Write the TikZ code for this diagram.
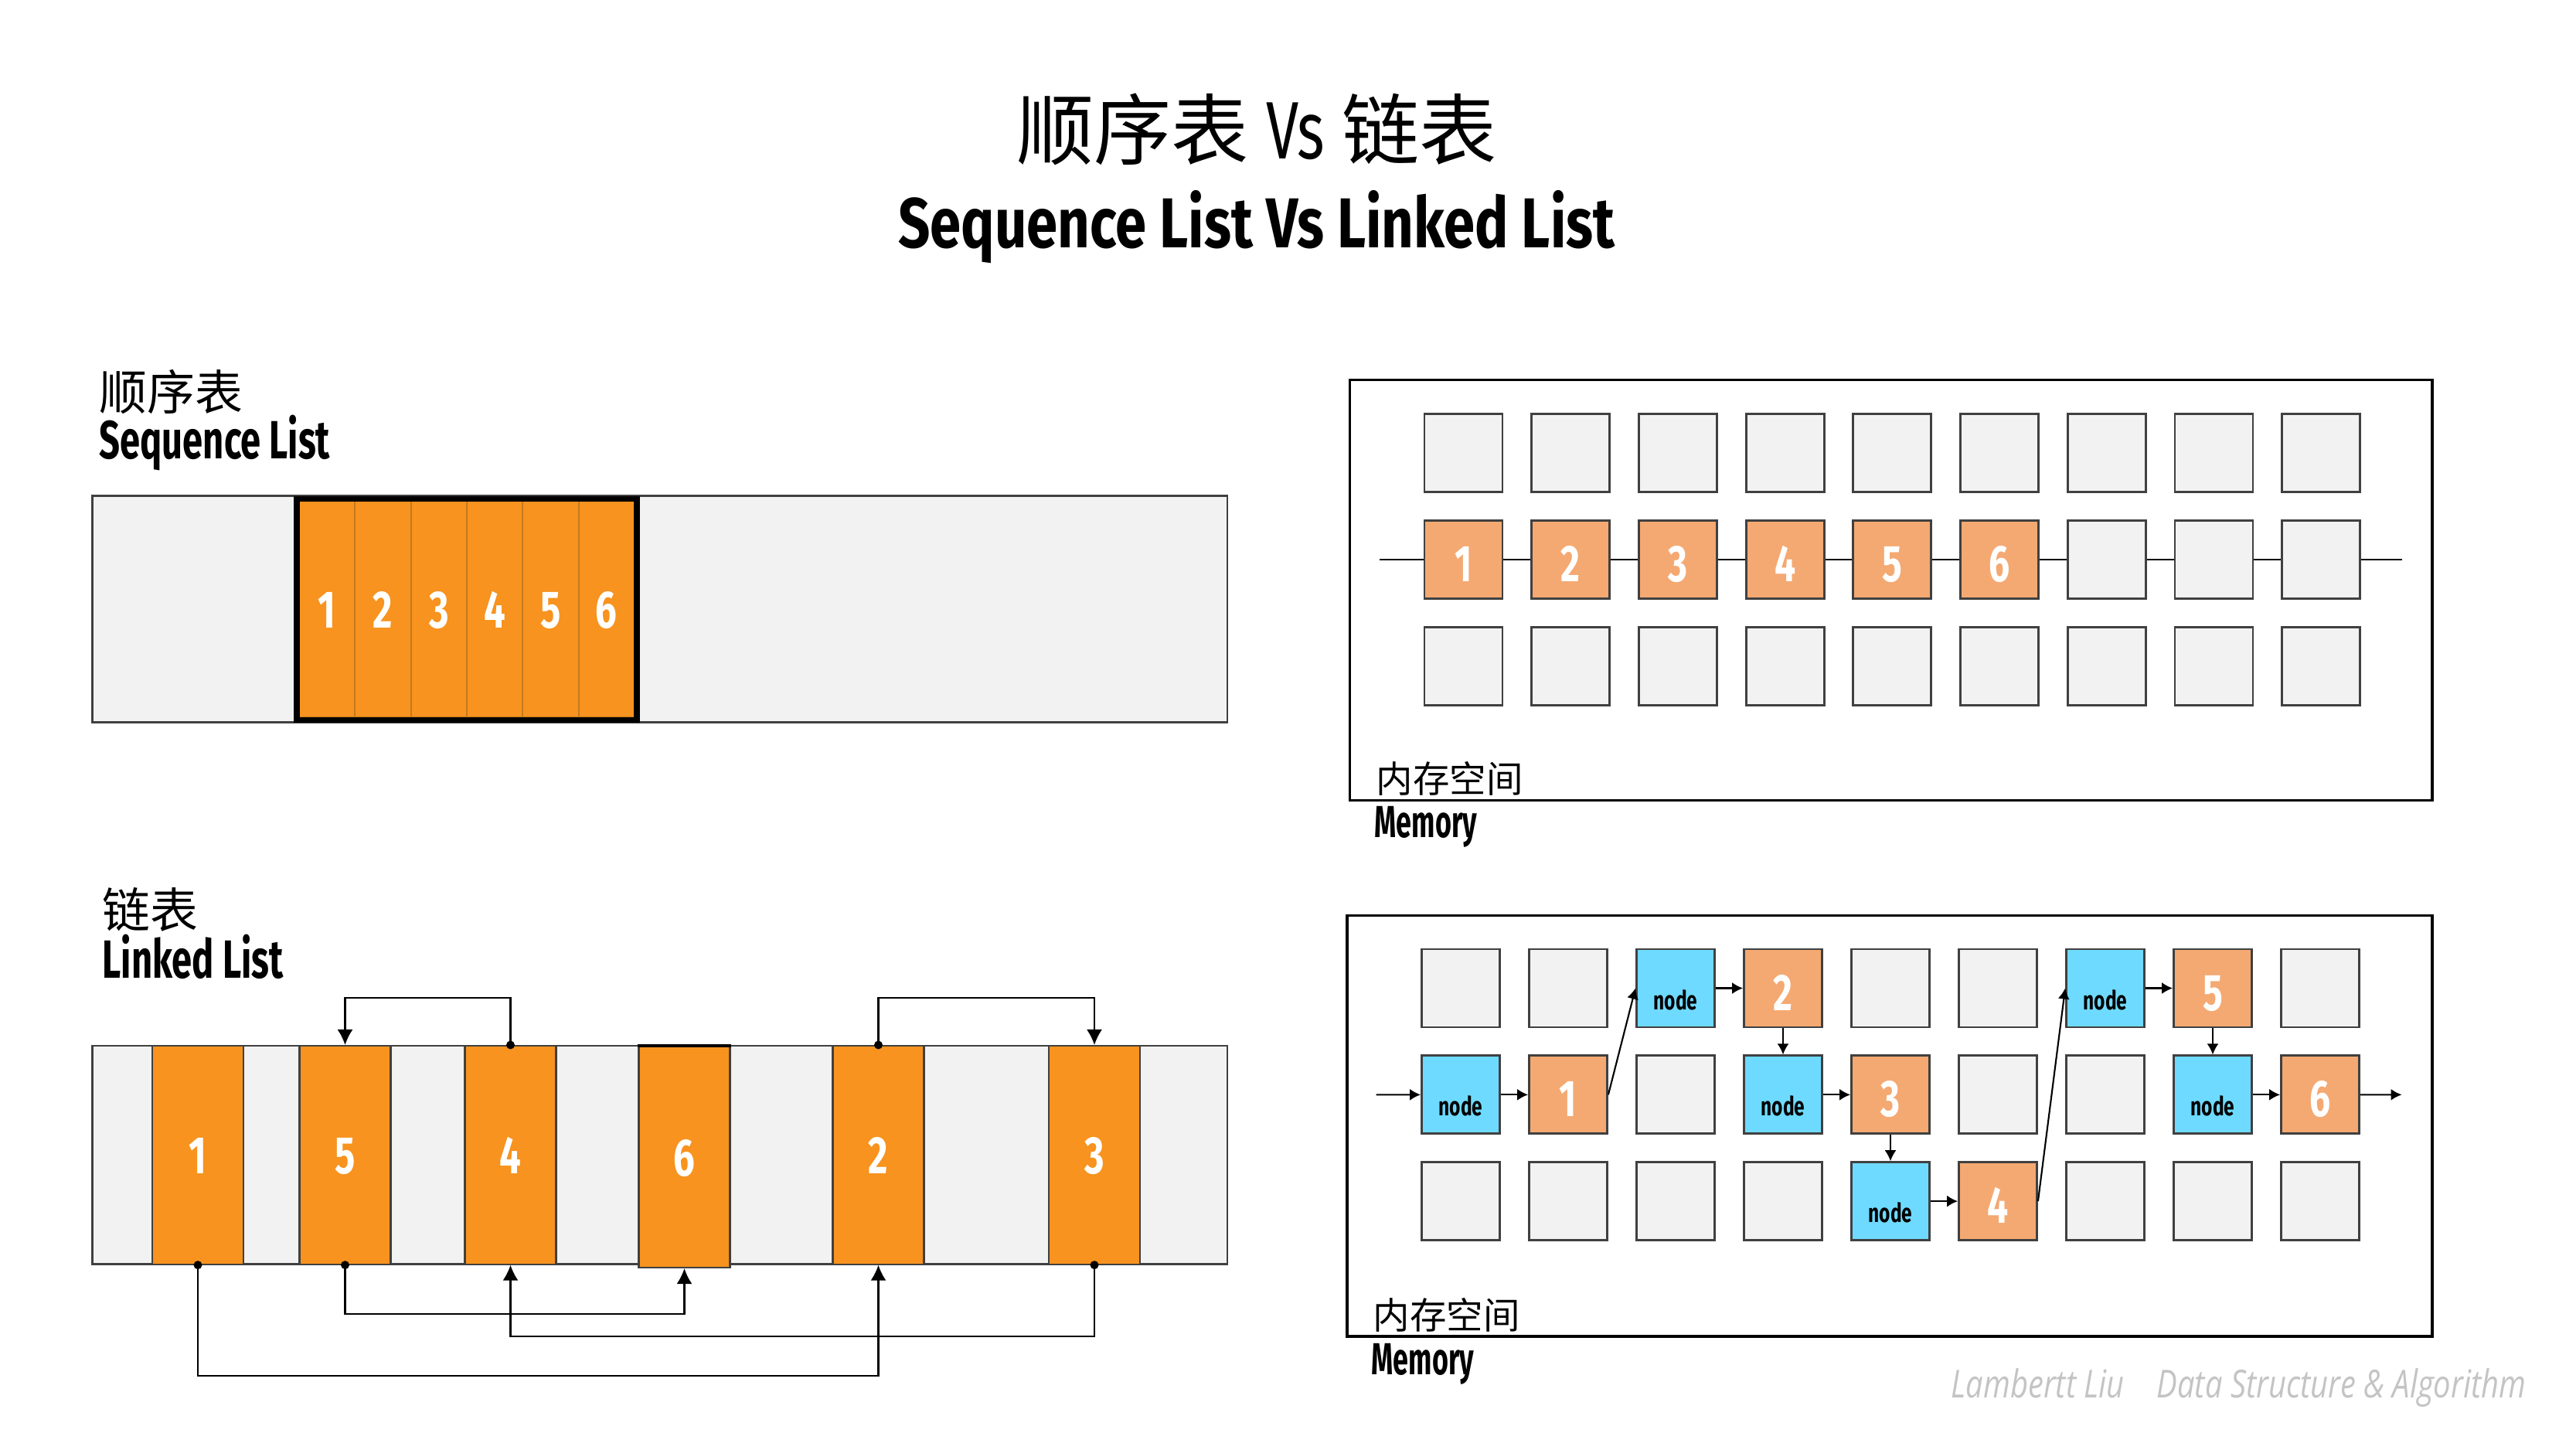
\documentclass[tikz,border=0pt]{standalone}
\usepackage{fontspec}
\usepackage{graphicx}
\usetikzlibrary{arrows.meta}
\newfontfamily\cjk{Noto Sans CJK SC}
\newfontfamily\cond[FakeStretch=0.72]{Fira Sans}
\newfontfamily\sign[FakeStretch=0.8]{Open Sans}

\definecolor{cellgray}{HTML}{F2F2F2}
\definecolor{cellline}{HTML}{404040}
\definecolor{deeporange}{HTML}{F7931E}
\definecolor{divline}{HTML}{C47A1E}
\definecolor{memorange}{HTML}{F4A972}
\definecolor{nodeblue}{HTML}{6FDAFF}
\definecolor{signgray}{HTML}{C4C4C4}

\tikzset{
  cjkbig/.style={font=\cjk\fontsize{28.5}{30}\selectfont},
  cjkmid/.style={font=\cjk\fontsize{17.6}{19}\selectfont},
  cjksmall/.style={font=\cjk\fontsize{13.5}{15}\selectfont},
  engmid/.style={font=\cond\bfseries\fontsize{19.8}{21}\selectfont},
  engsmall/.style={font=\cond\bfseries\fontsize{16.5}{18}\selectfont},
  frame/.style={draw=black, line width=0.9pt, inner sep=0},
  bar/.style={draw=cellline, line width=0.8pt, fill=cellgray, inner sep=0},
  column/.style={draw=cellline, line width=0.6pt, fill=deeporange, inner sep=0,
    minimum width=1.18cm, minimum height=2.826cm, text=white,
    font=\cond\bfseries\fontsize{19.4}{20}\selectfont, text height=0.48cm, text depth=0pt},
  seqcell/.style={draw=divline, line width=0.5pt, fill=deeporange, inner sep=0,
    minimum width=0.7233cm, minimum height=2.80cm, text=white,
    font=\cond\bfseries\fontsize{19.4}{20}\selectfont, text height=0.48cm, text depth=0pt},
  gcell/.style={draw=cellline, line width=0.8pt, fill=cellgray, inner sep=0,
    minimum size=1.01cm},
  ocell/.style={gcell, fill=memorange, text=white,
    font=\cond\bfseries\fontsize{19}{20}\selectfont, text height=0.57cm, text depth=0pt},
  bcell/.style={gcell, fill=nodeblue, text=black,
    font=\cond\bfseries\fontsize{9.7}{10}\selectfont, text height=0.55cm, text depth=0pt},
  link/.style={line width=0.6pt, -{Latex[length=0.2cm,width=0.2cm]}},
  plink/.style={line width=0.6pt, -{Latex[length=0.14cm,width=0.15cm]}},
}

\begin{document}
\begin{tikzpicture}
\path[use as bounding box, fill=white] (0,0) rectangle (33.33,-18.75);

% ---------- headings ----------
\node[cjkbig, anchor=base, inner sep=0] (title1) at (16.26,-2.05)
  {顺序表 {\cond\fontsize{30}{30}\selectfont Vs} 链表};
\node[anchor=base, inner sep=0, font=\cond\bfseries\fontsize{26}{28}\selectfont] (title2)
  at (16.26,-3.20) {\scalebox{1.10}[1]{Sequence List Vs Linked List}};

% ---------- sequence list ----------
\node[cjkmid, anchor=base west, inner sep=0] (seqcn) at (1.28,-5.30) {顺序表};
\node[engmid, anchor=base west, inner sep=0] (seqen) at (1.28,-5.93)
  {\scalebox{0.94}[1]{Sequence List}};

\node[bar, minimum width=14.686cm, minimum height=2.93cm] (seqbox) at (8.537,-7.88) {};
\foreach \k in {1,...,6}
  \node[seqcell] (s\k) at ({3.87+0.7233*(\k-0.5)},-7.88) {\k};
\node[draw=black, line width=2pt, minimum width=4.40cm, minimum height=2.86cm,
  inner sep=0] (seqblk) at (6.04,-7.88) {};

% ---------- linked list ----------
\node[cjkmid, anchor=base west, inner sep=0] (lnkcn) at (1.32,-12.00) {链表};
\node[engmid, anchor=base west, inner sep=0] (lnken) at (1.32,-12.65)
  {\scalebox{0.94}[1]{Linked List}};

\node[bar, minimum width=14.686cm, minimum height=2.826cm] (llbox) at (8.537,-14.943) {};
\node[column] (c1) at (2.56,-14.943) {1};
\node[column] (c5) at (4.465,-14.943) {5};
\node[column] (c4) at (6.605,-14.943) {4};
\node[column, minimum height=2.86cm] (c6) at (8.855,-14.97) {6};
\node[column] (c2) at (11.365,-14.943) {2};
\node[column] (c3) at (14.16,-14.943) {3};
\draw[line width=1.4pt] (c6.north west) -- (c6.north east);

% next pointers
\draw[link] (c4.north) -- ++(0,0.61) -| (c5.north);
\draw[link] (c2.north) -- ++(0,0.61) -| (c3.north);
\draw[link] (c1.south) -- ++(0,-1.43) -| (c2.south);
\draw[link] (c5.south) -- ++(0,-0.63) -| (c6.south);
\draw[link] (c3.south) -- ++(0,-0.92) -| (c4.south);
\foreach \p in {c4.north, c2.north, c1.south, c5.south, c3.south}
  \fill (\p) circle (0.055);

% ---------- memory, contiguous ----------
\node[frame, minimum width=14.005cm, minimum height=5.442cm] (mem1) at (24.4675,-7.637) {};
\coordinate (aL) at (17.85,-7.24);
\coordinate (aR) at (31.075,-7.24);
\draw[line width=0.7pt] (aL) -- (aR);
\foreach \r in {1,2,3}
  \foreach \c in {1,...,9}
    \node[gcell] (a-\r-\c) at ({18.935+1.387*(\c-1)},{-5.86-1.379*(\r-1)}) {};
\foreach \c in {1,...,6}
  \node[ocell] (a-2-\c) at ({18.935+1.387*(\c-1)},-7.239) {\c};
\node[cjksmall, anchor=base west, inner sep=0] (mem1cn) at (17.80,-10.25) {内存空间};
\node[engsmall, anchor=base west, inner sep=0] (mem1en) at (17.78,-10.835)
  {\scalebox{0.86}[1]{Memory}};

% ---------- memory, scattered nodes ----------
\node[frame, minimum width=14.04cm, minimum height=5.443cm] (mem2) at (24.45,-14.569) {};
\foreach \r/\c/\s/\t in {
  1/1/gcell/{}, 1/2/gcell/{}, 1/3/bcell/node, 1/4/ocell/2, 1/5/gcell/{},
  1/6/gcell/{}, 1/7/bcell/node, 1/8/ocell/5, 1/9/gcell/{},
  2/1/bcell/node, 2/2/ocell/1, 2/3/gcell/{}, 2/4/bcell/node, 2/5/ocell/3,
  2/6/gcell/{}, 2/7/gcell/{}, 2/8/bcell/node, 2/9/ocell/6,
  3/1/gcell/{}, 3/2/gcell/{}, 3/3/gcell/{}, 3/4/gcell/{}, 3/5/bcell/node,
  3/6/ocell/4, 3/7/gcell/{}, 3/8/gcell/{}, 3/9/gcell/{}}
  \node[\s] (b-\r-\c) at ({18.90+1.39*(\c-1)},{-12.785-1.378*(\r-1)}) {\t};

\coordinate (bin) at (17.805,-14.163);
\coordinate (bout) at (31.075,-14.163);
\draw[plink] (bin) -- (b-2-1);
\draw[plink] (b-2-1) -- (b-2-2);
\draw[plink] (b-2-2.east) -- (b-1-3.west);
\draw[plink] (b-1-3) -- (b-1-4);
\draw[plink] (b-1-4) -- (b-2-4);
\draw[plink] (b-2-4) -- (b-2-5);
\draw[plink] (b-2-5) -- (b-3-5);
\draw[plink] (b-3-5) -- (b-3-6);
\draw[plink] (b-3-6.east) -- (b-1-7.west);
\draw[plink] (b-1-7) -- (b-1-8);
\draw[plink] (b-1-8) -- (b-2-8);
\draw[plink] (b-2-8) -- (b-2-9);
\draw[plink] (b-2-9) -- (bout);

\node[cjksmall, anchor=base west, inner sep=0] (mem2cn) at (17.76,-17.19) {内存空间};
\node[engsmall, anchor=base west, inner sep=0] (mem2en) at (17.74,-17.78)
  {\scalebox{0.86}[1]{Memory}};

% ---------- signature ----------
\node[anchor=base west, inner sep=0, text=signgray,
  font=\sign\itshape\fontsize{14.2}{15}\selectfont] (signame) at (25.24,-18.08) {Lambertt Liu};
\node[anchor=base west, inner sep=0, text=signgray,
  font=\sign\itshape\fontsize{14.2}{15}\selectfont] (sigtopic) at (27.90,-18.08)
  {Data Structure \& Algorithm};
\end{tikzpicture}
\end{document}
